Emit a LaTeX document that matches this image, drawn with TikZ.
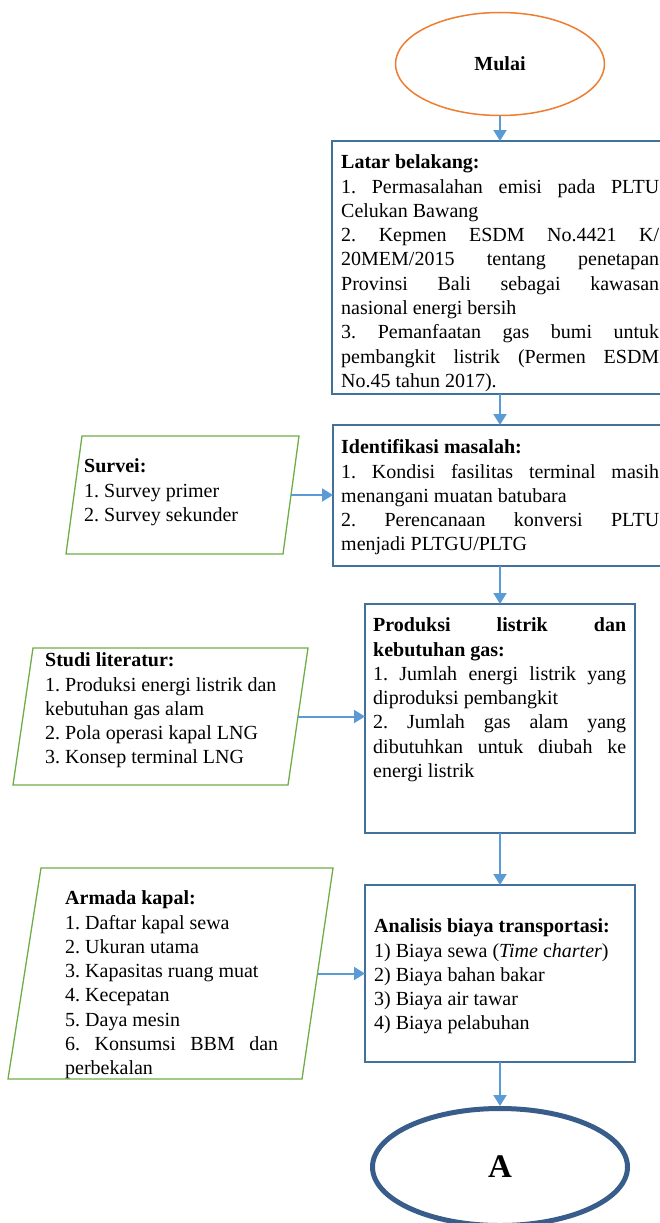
\documentclass[tikz,border=0pt]{standalone}
\usepackage{fontspec}
\setmainfont{Liberation Serif}
\usetikzlibrary{shapes.geometric,arrows.meta,calc}
\definecolor{boxblue}{HTML}{41719C}
\definecolor{arrowblue}{HTML}{5B9BD5}
\definecolor{paragreen}{HTML}{70AD47}
\definecolor{startorange}{HTML}{ED7D31}
\definecolor{endblue}{HTML}{385D8A}
\newcommand{\jl}[2]{\makebox[#1][s]{#2}}
\frenchspacing
\begin{document}
\begin{tikzpicture}[x=1pt,y=-1pt,
  procbox/.style={draw=boxblue, line width=1.3pt, anchor=north west, inner sep=0pt, outer sep=0pt},
  txt/.style={anchor=north west, inner sep=0pt, align=left, font=\fontsize{20}{24.3}\selectfont\frenchspacing},
  para/.style={draw=paragreen, line width=1.3pt},
  arr/.style={draw=arrowblue, line width=2pt, -{Triangle[width=13pt,length=11pt]}}]
\useasboundingbox (0,0) rectangle (659,1223);

% start / end
\node[ellipse, draw=startorange, line width=1.5pt, minimum width=209pt, minimum height=103pt, inner sep=0pt,
      font=\fontsize{20}{24}\selectfont\bfseries] (mulai) at (500,64) {Mulai};
\node[ellipse, draw=endblue, line width=5pt, minimum width=255pt, minimum height=117pt, inner sep=0pt,
      font=\fontsize{33}{33}\selectfont\bfseries] (A) at (500,1167) {A};

% process boxes
\node[procbox, minimum width=336pt, minimum height=253pt] (latar) at (332,141) {};
\node[procbox, minimum width=334pt, minimum height=141pt] (ident) at (333,425) {};
\node[procbox, minimum width=270pt, minimum height=229pt] (prod) at (365,604) {};
\node[procbox, minimum width=270pt, minimum height=177pt] (anal) at (365,885) {};

% box texts
\node[txt] (latarT) at (341,151.5) {\strut\textbf{Latar belakang:}\\
\jl{318pt}{1. Permasalahan emisi pada PLTU}\\
Celukan Bawang\\
\jl{318pt}{2. Kepmen ESDM No.4421 K/}\\
\jl{318pt}{20MEM/2015 tentang penetapan}\\
\jl{318pt}{Provinsi Bali sebagai kawasan}\\
nasional energi bersih\\
\jl{318pt}{3. Pemanfaatan gas bumi untuk}\\
\jl{318pt}{pembangkit listrik (Permen ESDM}\\
No.45 tahun 2017).};

\node[txt] (identT) at (341,436.5) {\strut\textbf{Identifikasi masalah:}\\
\jl{318pt}{1. Kondisi fasilitas terminal masih}\\
menangani muatan batubara\\
\jl{318pt}{2. Perencanaan konversi PLTU}\\
menjadi PLTGU/PLTG};

\node[txt] (prodT) at (373,614.5) {\strut\jl{253pt}{\textbf{Produksi listrik dan}}\\
\textbf{kebutuhan gas:}\\
\jl{253pt}{1. Jumlah energi listrik yang}\\
diproduksi pembangkit\\
\jl{253pt}{2. Jumlah gas alam yang}\\
\jl{253pt}{dibutuhkan untuk diubah ke}\\
energi listrik};

\node[txt] (analT) at (374,915.5) {\strut\textbf{Analisis biaya transportasi:}\\
1) Biaya sewa (\textit{Time} c\textit{harter})\\
2) Biaya bahan bakar\\
3) Biaya air tawar\\
4) Biaya pelabuhan};

% input parallelograms
\coordinate (sv1) at (82,436); \coordinate (sv2) at (299,436);
\coordinate (sv3) at (283,554); \coordinate (sv4) at (66,554);
\draw[para] (sv1) -- (sv2) -- (sv3) -- (sv4) -- cycle;
\coordinate (svE) at ($(sv2)!0.5!(sv3)$);
\node[txt] (survT) at (84,455.5) {\strut\textbf{Survei:}\\
1. Survey primer\\
2. Survey sekunder};

\coordinate (st1) at (33,648); \coordinate (st2) at (308,648);
\coordinate (st3) at (288,785); \coordinate (st4) at (13,785);
\draw[para] (st1) -- (st2) -- (st3) -- (st4) -- cycle;
\coordinate (stE) at ($(st2)!0.5!(st3)$);
\node[txt] (studT) at (45,649.5) {\strut\textbf{Studi literatur:}\\
1. Produksi energi listrik dan\\
kebutuhan gas alam\\
2. Pola operasi kapal LNG\\
3. Konsep terminal LNG};

\coordinate (ar1) at (41,868); \coordinate (ar2) at (333,868);
\coordinate (ar3) at (302,1079); \coordinate (ar4) at (8,1079);
\draw[para] (ar1) -- (ar2) -- (ar3) -- (ar4) -- cycle;
\coordinate (arE) at ($(ar2)!0.5!(ar3)$);
\node[txt] (armT) at (65,887.5) {\strut\textbf{Armada kapal:}\\
1. Daftar kapal sewa\\
2. Ukuran utama\\
3. Kapasitas ruang muat\\
4. Kecepatan\\
5. Daya mesin\\
\jl{213pt}{6. Konsumsi BBM dan}\\
perbekalan};

% connectors
\draw[arr] (mulai.south) -- (latar.north);
\draw[arr] (latar.south) -- (ident.north);
\draw[arr] (ident.south) -- (prod.north);
\draw[arr] (prod.south) -- (anal.north);
\draw[arr] (anal.south) -- (A.north);
\draw[arr] (svE) -- (svE -| ident.west);
\draw[arr] (stE) -- (stE -| prod.west);
\draw[arr] (arE) -- (arE -| anal.west);
\end{tikzpicture}
\end{document}
